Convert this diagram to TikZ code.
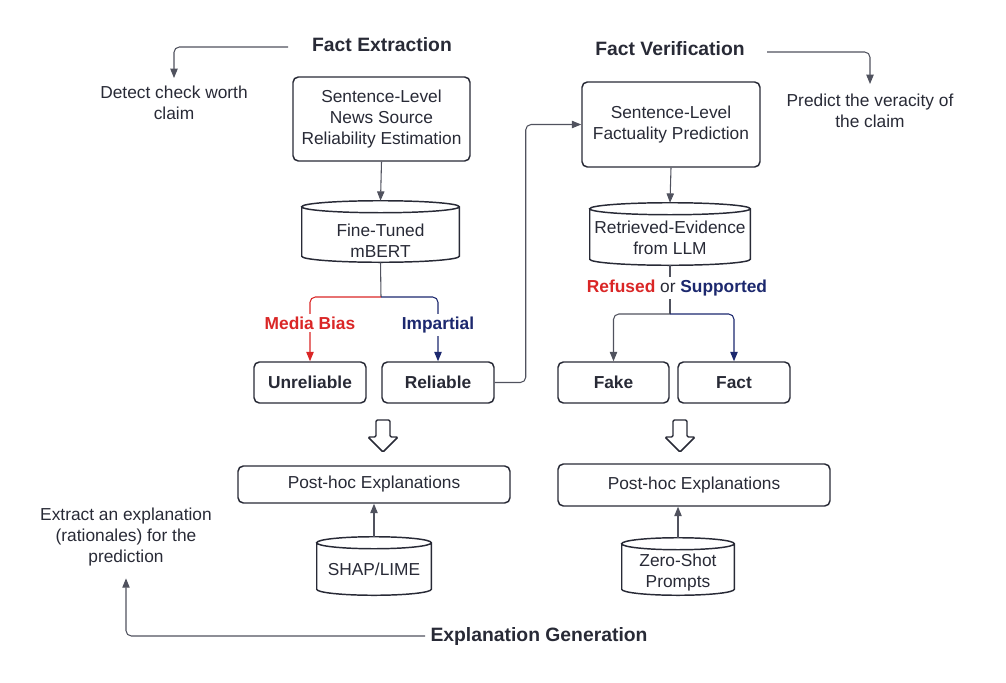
\documentclass[tikz,border=0pt]{standalone}
\usepackage{fontspec}
\setmainfont{Liberation Sans}
\usetikzlibrary{arrows.meta,calc}
\definecolor{txt}{RGB}{40,42,54}
\definecolor{ln}{RGB}{80,82,94}
\definecolor{myred}{RGB}{218,38,38}
\definecolor{myblue}{RGB}{28,40,110}
\newcommand\pxu{0.75pt}
\newcommand\cyl[1]{%
  \draw[draw=txt, line width=1.1pt] let \p1=(#1.north west), \p2=(#1.south east), \n1={(\x2-\x1)/2} in
    (\x1,\y1-4.5pt) -- (\x1,\y2+4.5pt) arc[start angle=180, end angle=360, x radius=\n1, y radius=4.5pt]
    -- (\x2,\y1-4.5pt) arc[start angle=0, end angle=360, x radius=\n1, y radius=4.5pt];}
\begin{document}
\begin{tikzpicture}[x=0.75pt,y=-0.75pt, font=\fontsize{13}{15.75}\selectfont, text=txt,
 box/.style={draw=txt, line width=1.1pt, rounded corners=4pt, align=center, inner sep=0pt},
 cylbox/.style={align=center, inner sep=0pt},
 line/.style={draw=ln, line width=0.8pt, rounded corners=4pt},
 conn/.style={line, -{Triangle[width=5.5pt,length=7pt]}},
 title/.style={font=\fontsize{14.5}{17}\selectfont\bfseries},
 lbl/.style={font=\fontsize{13}{15.75}\selectfont\bfseries, fill=white, inner sep=2pt},
 plain/.style={align=center, inner sep=1pt},
 harrow/.style={draw=txt, line width=1.1pt, rounded corners=1pt, fill=white}
]
\useasboundingbox (0,0) rectangle (1006,682);

% titles
\node[title] (fe) at (382,45) {Fact Extraction};
\node[title] (fv) at (670,49) {Fact Verification};
\node[title] (eg) at (539,636) {Explanation Generation};

% side notes
\node[plain] (detect) at (174,102.5) {Detect check worth\\claim};
\node[plain] (predict) at (870,110.5) {Predict the veracity of\\the claim};
\node[plain] (extract) at (126,537) {Extract an explanation\\(rationales) for the\\prediction};

% main boxes
\node[box, minimum width={177*\pxu}, minimum height={84*\pxu}] (b1) at (381.5,119) {Sentence-Level\\News Source\\Reliability Estimation};
\node[box, minimum width={178*\pxu}, minimum height={85*\pxu}] (b2) at (671,124.5) {Sentence-Level\\Factuality Prediction};

% cylinders
\node[cylbox, minimum width={157*\pxu}, minimum height={61*\pxu}] (c1) at (380.5,231.5) {};
\cyl{c1}
\node[plain] at ($(c1.center)+(0,9)$) {Fine-Tuned\\mBERT};
\node[cylbox, minimum width={160*\pxu}, minimum height={62*\pxu}] (c2) at (670,234) {};
\cyl{c2}
\node[plain] at ($(c2.center)+(0,4)$) {Retrieved-Evidence\\from LLM};
\node[cylbox, minimum width={114*\pxu}, minimum height={58*\pxu}] (c3) at (374,566) {};
\cyl{c3}
\node[plain] at ($(c3.center)+(0,3)$) {SHAP/LIME};
\node[cylbox, minimum width={112*\pxu}, minimum height={57*\pxu}] (c4) at (678,566.5) {};
\cyl{c4}
\node[plain] at ($(c4.center)+(0,6)$) {Zero-Shot\\Prompts};

% outcome boxes
\node[box, font=\fontsize{13}{15.75}\selectfont\bfseries, minimum width={112*\pxu}, minimum height={41*\pxu}] (unrel) at (310,382.5) {Unreliable};
\node[box, font=\fontsize{13}{15.75}\selectfont\bfseries, minimum width={112*\pxu}, minimum height={41*\pxu}] (rel) at (438,382.5) {Reliable};
\node[box, font=\fontsize{13}{15.75}\selectfont\bfseries, minimum width={111*\pxu}, minimum height={41*\pxu}] (fake) at (613.5,382.5) {Fake};
\node[box, font=\fontsize{13}{15.75}\selectfont\bfseries, minimum width={112*\pxu}, minimum height={41*\pxu}] (fact) at (734,382.5) {Fact};

% post-hoc boxes
\node[box, minimum width={272*\pxu}, minimum height={37*\pxu}] (ph1) at (374,484.5) {Post-hoc Explanations};
\node[box, minimum width={272*\pxu}, minimum height={42*\pxu}] (ph2) at (694,485) {Post-hoc Explanations};

% coordinates
\coordinate (fes) at (288,47);
\coordinate (fvs) at (767,52);
\coordinate (egs) at (425,636);
\coordinate (br1) at (381,297);
\coordinate (br2) at (670,314);
\coordinate (ha1) at (383,420);
\coordinate (ha2) at (680,420);

% connectors
\draw[conn] (fes) -| ([yshift=4.5pt]detect.north);
\draw[conn] (fvs) -| ([yshift=6pt]predict.north);
\draw[conn] (egs) -| ([yshift=-8pt]extract.south);
\draw[conn] (b1.south) -- (c1.north);
\draw[conn] (b2.south) -- (c2.north);
\draw[line] (c1.south) -- (br1);
\draw[conn, draw=myred] (br1) -| (unrel.north);
\draw[conn, draw=myblue] (br1) -| (rel.north);
\draw[line] (c2.south) -- (br2);
\draw[conn] (br2) -| (fake.north);
\draw[conn, draw=myblue] (br2) -| (fact.north);
\draw[conn] (rel.east) -- ++(31,0) |- (b2.west);
\draw[conn] (c3.north) -- (c3.north |- ph1.south);
\draw[conn] (c4.north) -- (c4.north |- ph2.south);

% branch labels
\node[lbl, text=myred] (mb) at (310,323) {Media Bias};
\node[lbl, text=myblue] (imp) at (438,325) {Impartial};
\node[lbl] (rs) at (677,288) {\textcolor{myred}{Refused} {\mdseries or} \textcolor{myblue}{Supported}};

% hollow arrows
\draw[harrow] (ha1) ++(-7,0) -- ++(0,17) -- ++(-8,0) -- ++(15,15) -- ++(15,-15) -- ++(-8,0) -- ++(0,-17) -- cycle;
\draw[harrow] (ha2) ++(-7,0) -- ++(0,17) -- ++(-8,0) -- ++(15,15) -- ++(15,-15) -- ++(-8,0) -- ++(0,-17) -- cycle;
\end{tikzpicture}
\end{document}
